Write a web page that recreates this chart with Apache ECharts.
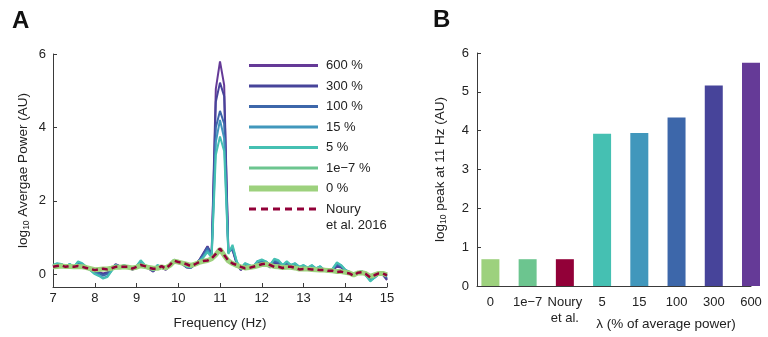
<!DOCTYPE html>
<html>
<head>
<meta charset="utf-8">
<script src="https://cdn.jsdelivr.net/npm/echarts@6/dist/echarts.min.js"></script>
<style>html,body{margin:0;padding:0;background:#fff}#c{width:768px;height:337px}</style>
</head>
<body>
<div id="c"></div>
<script>
// ---------- Panel A data ----------
const freqs = [7.0,7.1,7.2,7.3,7.4,7.5,7.6,7.7,7.8,7.9,
  8.0,8.1,8.2,8.3,8.4,8.5,8.6,8.7,8.8,8.9,
  9.0,9.1,9.2,9.3,9.4,9.5,9.6,9.7,9.8,9.9,
  10.0,10.1,10.2,10.3,10.4,10.5,10.6,10.7,10.8,10.9,
  11.0,11.1,11.2,11.3,11.4,11.5,11.6,11.7,11.8,11.9,
  12.0,12.1,12.2,12.3,12.4,12.5,12.6,12.7,12.8,12.9,
  13.0,13.1,13.2,13.3,13.4,13.5,13.6,13.7,13.8,13.9,
  14.0,14.1,14.2,14.3,14.4,14.5,14.6,14.7,14.8,14.9,
  15.0];

const p600 = [0.20,0.23,0.23,0.19,0.23,0.18,0.26,0.24,0.16,0.12,
  0.07,0.05,0.02,0.05,0.15,0.27,0.22,0.21,0.19,0.12,
  0.18,0.26,0.21,0.14,0.07,0.20,0.17,0.12,0.22,0.36,
  0.30,0.27,0.18,0.17,0.26,0.38,0.57,0.76,0.54,5.05,
  5.80,5.15,0.63,0.66,0.28,0.11,0.24,0.19,0.19,0.28,
  0.32,0.28,0.18,0.30,0.28,0.19,0.27,0.20,0.24,0.16,
  0.20,0.14,0.20,0.12,0.18,0.09,0.07,0.11,0.20,0.18,
  0.09,0.05,-0.04,0.03,0.05,-0.03,-0.12,-0.07,0.00,-0.02,
  -0.16];
const p300 = [0.21,0.24,0.24,0.20,0.24,0.19,0.28,0.25,0.17,0.12,
  0.06,0.04,0.00,0.03,0.14,0.26,0.22,0.22,0.20,0.13,
  0.19,0.28,0.22,0.15,0.08,0.21,0.18,0.13,0.23,0.37,
  0.31,0.28,0.19,0.18,0.27,0.37,0.55,0.75,0.52,4.70,
  5.22,4.85,0.62,0.68,0.30,0.12,0.25,0.20,0.20,0.30,
  0.34,0.30,0.20,0.32,0.30,0.20,0.28,0.21,0.25,0.17,
  0.21,0.15,0.21,0.13,0.19,0.10,0.08,0.12,0.23,0.20,
  0.10,0.06,-0.05,0.03,0.06,-0.04,-0.13,-0.08,0.00,0.00,
  -0.14];
const p100 = [0.22,0.25,0.25,0.21,0.25,0.20,0.30,0.26,0.18,0.12,
  0.05,0.02,-0.04,0.00,0.12,0.25,0.21,0.23,0.20,0.14,
  0.20,0.30,0.23,0.16,0.10,0.22,0.19,0.14,0.24,0.38,
  0.32,0.28,0.20,0.19,0.28,0.36,0.52,0.72,0.50,4.00,
  4.45,4.10,0.60,0.70,0.32,0.14,0.27,0.22,0.20,0.33,
  0.36,0.32,0.22,0.35,0.32,0.22,0.30,0.22,0.27,0.18,
  0.22,0.16,0.22,0.14,0.20,0.10,0.08,0.13,0.26,0.22,
  0.11,0.05,-0.06,0.04,0.07,-0.05,-0.15,-0.10,0.00,0.02,
  -0.10];
const p15 = [0.24,0.28,0.27,0.21,0.27,0.20,0.33,0.28,0.19,0.10,
  0.02,-0.03,-0.10,-0.06,0.09,0.24,0.20,0.24,0.20,0.15,
  0.21,0.35,0.24,0.19,0.11,0.24,0.19,0.15,0.24,0.39,
  0.32,0.29,0.21,0.19,0.29,0.35,0.48,0.65,0.48,3.60,
  4.20,3.70,0.58,0.75,0.34,0.16,0.29,0.24,0.21,0.36,
  0.38,0.34,0.26,0.40,0.36,0.25,0.33,0.25,0.29,0.20,
  0.24,0.18,0.24,0.16,0.21,0.11,0.09,0.15,0.30,0.24,
  0.12,0.06,-0.04,0.05,0.08,-0.04,-0.17,-0.09,0.00,0.04,
  -0.06];
const p5 = [0.25,0.30,0.28,0.20,0.28,0.20,0.35,0.30,0.20,0.10,
  0.00,-0.05,-0.12,-0.08,0.08,0.25,0.20,0.25,0.20,0.15,
  0.22,0.38,0.25,0.20,0.10,0.25,0.20,0.15,0.25,0.40,
  0.33,0.30,0.20,0.18,0.30,0.35,0.45,0.60,0.45,3.25,
  3.75,3.35,0.55,0.80,0.35,0.15,0.30,0.25,0.20,0.35,
  0.40,0.35,0.25,0.42,0.38,0.25,0.35,0.25,0.30,0.20,
  0.25,0.18,0.25,0.15,0.22,0.10,0.08,0.15,0.32,0.25,
  0.12,0.05,-0.05,0.05,0.08,-0.05,-0.20,-0.10,0.00,0.05,
  -0.05];
const p1e7 = [0.21,0.22,0.23,0.20,0.22,0.21,0.22,0.21,0.17,0.15,
  0.12,0.12,0.14,0.13,0.16,0.20,0.19,0.21,0.19,0.16,
  0.20,0.24,0.21,0.17,0.15,0.16,0.21,0.16,0.25,0.36,
  0.33,0.31,0.27,0.23,0.27,0.33,0.36,0.38,0.43,0.55,
  0.69,0.52,0.37,0.29,0.24,0.20,0.16,0.18,0.20,0.23,
  0.27,0.28,0.24,0.20,0.20,0.17,0.20,0.19,0.17,0.13,
  0.14,0.14,0.13,0.12,0.11,0.11,0.09,0.09,0.06,0.07,
  0.04,0.02,-0.03,0.04,0.05,0.00,-0.08,-0.02,0.02,0.02,
  -0.03];
const p0 = [0.20,0.21,0.22,0.21,0.21,0.20,0.21,0.20,0.18,0.15,
  0.12,0.13,0.14,0.14,0.16,0.19,0.19,0.20,0.19,0.17,
  0.19,0.23,0.21,0.18,0.16,0.16,0.20,0.17,0.24,0.35,
  0.33,0.30,0.27,0.24,0.27,0.32,0.35,0.37,0.42,0.53,
  0.68,0.51,0.36,0.29,0.24,0.20,0.17,0.18,0.20,0.23,
  0.26,0.27,0.24,0.21,0.20,0.18,0.19,0.19,0.17,0.14,
  0.14,0.14,0.13,0.12,0.11,0.11,0.10,0.09,0.07,0.07,
  0.05,0.03,-0.02,0.03,0.04,0.01,-0.06,-0.02,0.02,0.02,
  -0.02];
const pNoury = [0.20,0.22,0.24,0.20,0.22,0.20,0.22,0.20,0.17,0.14,
  0.11,0.13,0.15,0.13,0.16,0.20,0.20,0.20,0.20,0.15,
  0.20,0.25,0.22,0.17,0.15,0.15,0.22,0.15,0.25,0.37,
  0.33,0.31,0.27,0.22,0.27,0.33,0.36,0.37,0.43,0.55,
  0.70,0.52,0.37,0.29,0.25,0.20,0.16,0.17,0.20,0.23,
  0.27,0.29,0.25,0.20,0.20,0.17,0.20,0.20,0.17,0.13,
  0.14,0.14,0.13,0.13,0.11,0.11,0.09,0.09,0.06,0.07,
  0.04,0.02,-0.04,0.04,0.05,0.00,-0.09,-0.03,0.02,0.02,
  -0.03];

const lineNames = ['600 %','300 %','100 %','15 %','5 %','1e\u22127 %','0 %','Noury'];
const nourySecondLine = 'et al. 2016';
const yTicksA = [0, 2, 4, 6];

// ---------- Panel B data ----------
const barCats = ['0', '1e\u22127', 'Noury\net al.', '5', '15', '100', '300', '600'];
const barPos = [1, 2, 3, 4, 5, 6, 7, 8];
const barVals = [0.69, 0.69, 0.69, 3.92, 3.94, 4.34, 5.16, 5.75];

const colors = {
  c600: '#653a97', c300: '#47449a', c100: '#3d67aa', c15: '#4197bc',
  c5: '#45c0b2', c1e7: '#6cc58f', c0: '#9dd17d', noury: '#920038'
};
const barColors = [colors.c0, colors.c1e7, colors.noury, colors.c5, colors.c15, colors.c100, colors.c300, colors.c600];

const FONT = 'Liberation Sans, Arial, Helvetica, sans-serif';
const AX = '#3a3a3a';
const TXT = '#222';

function pairs(ys) { return freqs.map((f, i) => [f, ys[i]]); }

const lineDefs = [
  [lineNames[0], p600, colors.c600, 2, 'solid'],
  [lineNames[1], p300, colors.c300, 2, 'solid'],
  [lineNames[2], p100, colors.c100, 2, 'solid'],
  [lineNames[3], p15, colors.c15, 2, 'solid'],
  [lineNames[4], p5, colors.c5, 2, 'solid'],
  [lineNames[5], p1e7, colors.c1e7, 2, 'solid'],
  [lineNames[6], p0, colors.c0, 5, 'solid'],
  [lineNames[7], pNoury, colors.noury, 2.5, [6, 4]]
];

const series = lineDefs.map(d => ({
  type: 'line', name: d[0], xAxisIndex: 0, yAxisIndex: 0,
  data: pairs(d[1]), symbol: 'none', showSymbol: false,
  lineStyle: { color: d[2], width: d[3], type: d[4] },
  itemStyle: { color: d[2] }, animation: false, z: 2
}));

series.push({
  type: 'bar', xAxisIndex: 1, yAxisIndex: 1, barWidth: 18, clip: false,
  data: barPos.map((p, i) => ({ value: [p, barVals[i]], itemStyle: { color: barColors[i] } })),
  animation: false
});

const axisCommon = {
  nameMoveOverlap: false,
  axisLine: { show: true, onZero: false, lineStyle: { color: AX, width: 1 } },
  axisTick: { show: true, inside: true, length: 4, lineStyle: { color: AX } },
  splitLine: { show: false },
  axisLabel: { color: TXT, fontSize: 13, fontFamily: FONT },
  nameTextStyle: { color: TXT, fontSize: 13, fontFamily: FONT }
};

const richName = {
  a: { fontSize: 13.5, color: TXT, fontFamily: FONT, lineHeight: 16 },
  s: { fontSize: 8.5, color: TXT, fontFamily: FONT, lineHeight: 9, verticalAlign: 'bottom' }
};

const option = {
  animation: false,
  backgroundColor: '#fff',
  textStyle: { fontFamily: FONT },
  graphic: [
    { type: 'text', left: 12, top: 9, style: { text: 'A', font: 'bold 24px ' + FONT, fill: '#111' } },
    { type: 'text', left: 433, top: 8, style: { text: 'B', font: 'bold 24px ' + FONT, fill: '#111' } },
    { type: 'text', left: 326, top: 219, style: { text: nourySecondLine, font: '13px ' + FONT, fill: TXT } }
  ],
  legend: {
    orient: 'vertical', left: 246, top: 59, padding: 0,
    itemWidth: 69, itemHeight: 14, itemGap: 7.5,
    lineStyle: { width: 3 },
    itemStyle: { color: 'rgba(0,0,0,0)', borderColor: 'rgba(0,0,0,0)', borderWidth: 0 },
    textStyle: { color: TXT, fontSize: 13, fontFamily: FONT, padding: [0, 0, 0, 3] },
    data: lineNames.map((n, i) => i === 6
      ? { name: n, lineStyle: { width: 6 } }
      : (i === 7 ? { name: n, lineStyle: { width: 3, type: [7, 5] } } : { name: n })),
    selectedMode: false
  },
  grid: [
    { left: 53, right: 381, top: 54, bottom: 50, outerBoundsMode: 'none', containLabel: false },
    { left: 477, right: 17, top: 53, bottom: 51, outerBoundsMode: 'none', containLabel: false }
  ],
  xAxis: [
    Object.assign({}, axisCommon, {
      gridIndex: 0, type: 'value', min: 7, max: 15, interval: 1,
      axisLabel: Object.assign({}, axisCommon.axisLabel, { margin: 5 }),
      name: 'Frequency (Hz)', nameLocation: 'middle', nameGap: 29,
      nameTextStyle: Object.assign({}, axisCommon.nameTextStyle, { fontSize: 13.5 })
    }),
    Object.assign({}, axisCommon, {
      gridIndex: 1, type: 'value', min: 0.64, max: 8,
      axisTick: { show: false },
      axisLabel: Object.assign({}, axisCommon.axisLabel, {
        margin: 8, lineHeight: 16, customValues: barPos,
        formatter: v => barCats[Math.round(v) - 1]
      }),
      name: '\u03bb (% of average power)', nameLocation: 'middle', nameGap: 31,
      nameTextStyle: Object.assign({}, axisCommon.nameTextStyle, { fontSize: 13.5, padding: [0, 0, 0, 104] })
    })
  ],
  yAxis: [
    Object.assign({}, axisCommon, {
      gridIndex: 0, type: 'value', min: -0.35, max: 6,
      axisTick: Object.assign({}, axisCommon.axisTick, { customValues: yTicksA }),
      axisLabel: Object.assign({}, axisCommon.axisLabel, { customValues: yTicksA, margin: 7 }),
      name: '{a|log}{s|10}{a| Avergae Power (AU)}', nameLocation: 'middle', nameGap: 22,
      nameTextStyle: { color: TXT, fontFamily: FONT, rich: richName }
    }),
    Object.assign({}, axisCommon, {
      gridIndex: 1, type: 'value', min: 0, max: 6, interval: 1,
      name: '{a|log}{s|10}{a| peak at 11 Hz (AU)}', nameLocation: 'middle', nameGap: 29,
      nameTextStyle: { color: TXT, fontFamily: FONT, rich: richName }
    })
  ],
  series: series
};

const chart = echarts.init(document.getElementById('c'), null, { renderer: 'canvas' });
chart.setOption(option);
</script>
</body>
</html>
